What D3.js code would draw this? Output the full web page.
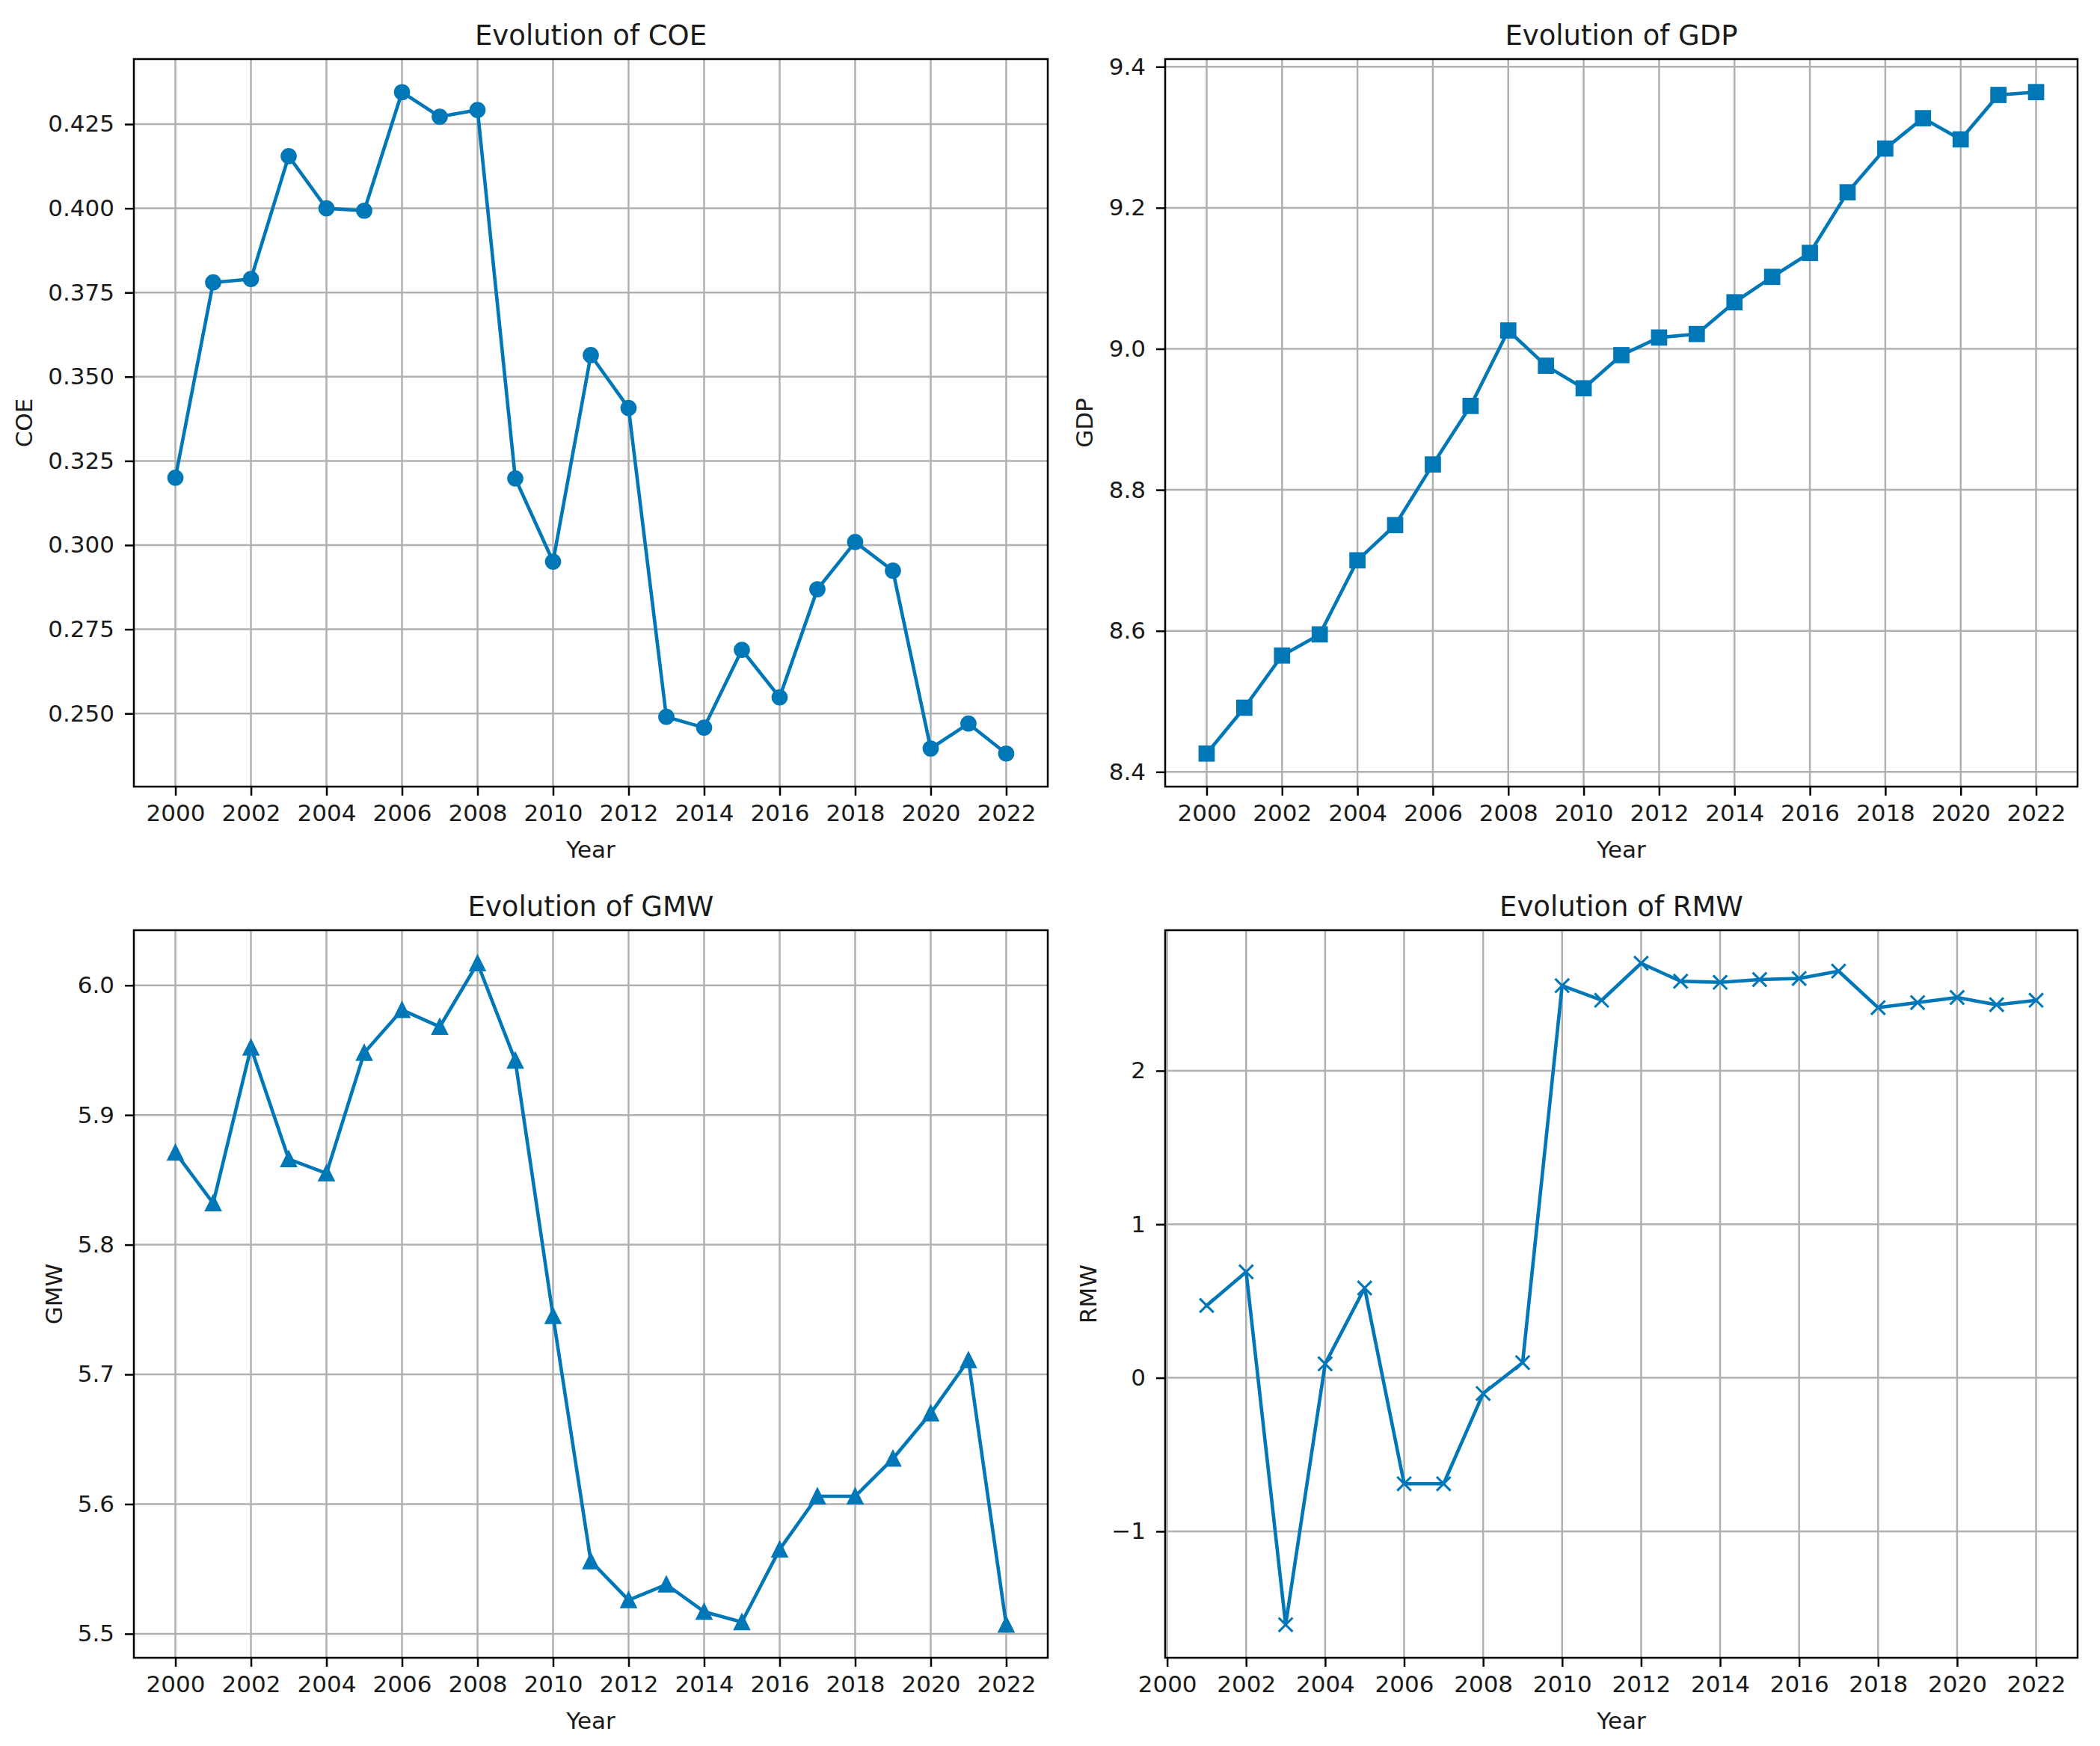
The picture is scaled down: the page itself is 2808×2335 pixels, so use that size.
<!DOCTYPE html>
<html><head><meta charset="utf-8">
<script src="https://cdn.jsdelivr.net/npm/d3@7/dist/d3.min.js"></script>
<style>
body{margin:0;background:#fff}
text{font-family:"DejaVu Sans",sans-serif;fill:#1a1a1a}
</style>
</head><body>
<svg id="c" width="2808" height="2335"></svg>
<script>
// ---- data ----
const years = [2000,2001,2002,2003,2004,2005,2006,2007,2008,2009,2010,2011,2012,2013,2014,2015,2016,2017,2018,2019,2020,2021,2022];
const coe = [0.320,0.378,0.379,0.4155,0.400,0.3993,0.4345,0.4272,0.4292,0.3198,0.2951,0.3564,0.3407,0.249,0.2458,0.2689,0.2548,0.2869,0.3009,0.2924,0.2396,0.247,0.2381];
const gdp = [8.426,8.491,8.565,8.595,8.700,8.750,8.836,8.919,9.026,8.976,8.944,8.991,9.016,9.021,9.066,9.102,9.136,9.222,9.284,9.327,9.297,9.360,9.364];
const gmw = [5.871,5.832,5.952,5.866,5.855,5.948,5.981,5.968,6.017,5.942,5.745,5.556,5.526,5.538,5.517,5.509,5.565,5.606,5.606,5.635,5.670,5.711,5.507];
const rmwYears = [2001,2002,2003,2004,2005,2006,2007,2008,2009,2010,2011,2012,2013,2014,2015,2016,2017,2018,2019,2020,2021,2022];
const rmw = [0.471,0.690,-1.608,0.091,0.585,-0.690,-0.690,-0.102,0.099,2.554,2.459,2.700,2.583,2.576,2.594,2.601,2.649,2.411,2.444,2.477,2.430,2.459];
const yearTicks = [2000,2002,2004,2006,2008,2010,2012,2014,2016,2018,2020,2022];
const coeTicks = [0.250,0.275,0.300,0.325,0.350,0.375,0.400,0.425];
const gdpTicks = [8.4,8.6,8.8,9.0,9.2,9.4];
const gmwTicks = [5.5,5.6,5.7,5.8,5.9,6.0];
const rmwTicks = [-1,0,1,2];
const titles = ["Evolution of COE","Evolution of GDP","Evolution of GMW","Evolution of RMW"];
const yLabels = ["COE","GDP","GMW","RMW"];

const COLOR = "#0077b6";
const svg = d3.select("#c");
svg.append("rect").attr("width",2808).attr("height",2335).attr("fill","#fff");

function padExt(v){const e=d3.extent(v);const r=e[1]-e[0];return [e[0]-0.05*r,e[1]+0.05*r];}

function panel(cfg){
  const g = svg.append("g");
  const x = d3.scaleLinear().domain(padExt(cfg.xs)).range([cfg.left,cfg.right]);
  const y = d3.scaleLinear().domain(padExt(cfg.ys)).range([cfg.bottom,cfg.top]);
  // grid
  g.append("g").selectAll("line").data(yearTicks).join("line")
    .attr("x1",d=>x(d)).attr("x2",d=>x(d)).attr("y1",cfg.top).attr("y2",cfg.bottom)
    .attr("stroke","#b0b0b0").attr("stroke-width",2.5);
  g.append("g").selectAll("line").data(cfg.yTicks).join("line")
    .attr("x1",cfg.left).attr("x2",cfg.right).attr("y1",d=>y(d)).attr("y2",d=>y(d))
    .attr("stroke","#b0b0b0").attr("stroke-width",2.5);
  // axes
  const ax = g.append("g").attr("transform",`translate(0,${cfg.bottom})`)
    .call(d3.axisBottom(x).tickValues(yearTicks).tickSize(12).tickPadding(12).tickFormat(d3.format("d")));
  const ay = g.append("g").attr("transform",`translate(${cfg.left},0)`)
    .call(d3.axisLeft(y).tickValues(cfg.yTicks).tickSize(12).tickPadding(14).tickFormat(cfg.fmt));
  [ax,ay].forEach(a=>{
    a.select(".domain").remove();
    a.selectAll(".tick line").attr("stroke","#000").attr("stroke-width",2.5);
    a.selectAll(".tick text").attr("font-size",31).attr("font-family","DejaVu Sans").attr("fill","#1a1a1a");
  });
  // line
  const clipId = "clip"+cfg.id;
  g.append("clipPath").attr("id",clipId).append("rect")
    .attr("x",cfg.left).attr("y",cfg.top).attr("width",cfg.right-cfg.left).attr("height",cfg.bottom-cfg.top);
  const pts = cfg.xs.map((d,i)=>[d,cfg.ys[i]]);
  g.append("path").datum(pts)
    .attr("d",d3.line().x(d=>x(d[0])).y(d=>y(d[1])))
    .attr("fill","none").attr("stroke",COLOR).attr("stroke-width",4.6)
    .attr("stroke-linejoin","round").attr("stroke-linecap","square");
  const mk = g.append("g").selectAll("g").data(pts).join("g")
    .attr("transform",d=>`translate(${x(d[0])},${y(d[1])})`);
  const s = 9.3;
  if(cfg.marker==="o"){
    mk.append("circle").attr("r",s).attr("fill",COLOR).attr("stroke",COLOR).attr("stroke-width",3.1);
  } else if(cfg.marker==="s"){
    mk.append("rect").attr("x",-s).attr("y",-s).attr("width",2*s).attr("height",2*s)
      .attr("fill",COLOR).attr("stroke",COLOR).attr("stroke-width",3.1).attr("stroke-linejoin","miter");
  } else if(cfg.marker==="^"){
    mk.append("path").attr("d",`M0,${-s}L${-s},${s}L${s},${s}Z`)
      .attr("fill",COLOR).attr("stroke",COLOR).attr("stroke-width",3.1).attr("stroke-linejoin","miter");
  } else {
    mk.append("path").attr("d",`M${-s},${-s}L${s},${s}M${-s},${s}L${s},${-s}`)
      .attr("fill","none").attr("stroke",COLOR).attr("stroke-width",3.1);
  }
  // spines
  g.append("rect").attr("x",cfg.left).attr("y",cfg.top)
    .attr("width",cfg.right-cfg.left).attr("height",cfg.bottom-cfg.top)
    .attr("fill","none").attr("stroke","#000").attr("stroke-width",2.5);
  // texts
  g.append("text").attr("x",(cfg.left+cfg.right)/2).attr("y",cfg.top-19)
    .attr("text-anchor","middle").attr("font-size",37).text(cfg.title);
  g.append("text").attr("x",(cfg.left+cfg.right)/2).attr("y",cfg.bottom+95)
    .attr("text-anchor","middle").attr("font-size",31).text("Year");
  g.append("text").attr("transform",`translate(${cfg.ylx},${(cfg.top+cfg.bottom)/2}) rotate(-90)`)
    .attr("text-anchor","middle").attr("dy","0.36em").attr("font-size",31).text(cfg.ylabel);
}

const minusFmt = d => (d<0?"\u2212":"")+Math.abs(d);
panel({id:1,left:179,right:1401,top:79,bottom:1052,ylx:32,xs:years,ys:coe,yTicks:coeTicks,fmt:d3.format(".3f"),marker:"o",title:titles[0],ylabel:yLabels[0]});
panel({id:2,left:1558,right:2778,top:79,bottom:1052,ylx:1450,xs:years,ys:gdp,yTicks:gdpTicks,fmt:d3.format(".1f"),marker:"s",title:titles[1],ylabel:yLabels[1]});
panel({id:3,left:179,right:1401,top:1244,bottom:2217,ylx:72,xs:years,ys:gmw,yTicks:gmwTicks,fmt:d3.format(".1f"),marker:"^",title:titles[2],ylabel:yLabels[2]});
panel({id:4,left:1558,right:2778,top:1244,bottom:2217,ylx:1455,xs:rmwYears,ys:rmw,yTicks:rmwTicks,fmt:minusFmt,marker:"x",title:titles[3],ylabel:yLabels[3]});
</script>
</body></html>
